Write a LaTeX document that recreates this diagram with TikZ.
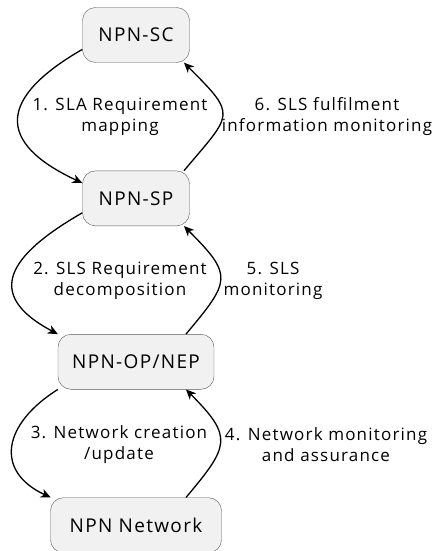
\documentclass[tikz,border=0pt]{standalone}
\usepackage{fontspec}
\setmainfont[LetterSpace=7]{Open Sans}
\usepackage{tikz}
\usetikzlibrary{positioning, arrows.meta}
\definecolor{boxfill}{HTML}{F1F1F1}
\definecolor{boxline}{HTML}{5A5A5A}
\tikzstyle{state} = [rectangle, rounded corners=13pt, 
minimum height=55pt, text centered, draw=boxline, 
fill=boxfill, font=\fontsize{19}{22}\selectfont]
\tikzstyle{steplabel} = [align=center, 
font=\fontsize{17}{21}\selectfont]
\tikzstyle{arrow} = [line width=1.3pt,
-{Stealth[length=10pt,width=9pt,inset=3pt]}]

\begin{document}
\begin{tikzpicture}[x=1pt, y=1pt, node distance=108pt]
\useasboundingbox (0,0) rectangle (433,-551);

\node (sc) [state, minimum width=107pt] at (136,-35) {NPN-SC};

\node (sp) [state, minimum width=107pt, below=of sc] {NPN-SP};

\node (nep) [state, minimum width=156pt, below=of sp] 
{NPN-OP/NEP};

\node (net) [state, minimum width=171pt, below=of nep] 
{NPN Network};

\node (l1) [steplabel] at (120,-117) 
{1. SLA Requirement\\mapping};
\node (l6) [steplabel] at (327,-117) 
{6. SLS fulfilment\\information monitoring};
\node (l2) [steplabel] at (120,-281) 
{2. SLS Requirement\\decomposition};
\node (l5) [steplabel] at (273,-281) 
{5. SLS\\monitoring};
\node (l3) [steplabel] at (119,-445) 
{3. Network creation\\/update};
\node (l4) [steplabel] at (326,-445) 
{4. Network monitoring\\and assurance};

\draw [arrow] (sc.195) to[out=210, in=155, looseness=1.85] (sp.164);
\draw [arrow] (sp.30) to[out=50, in=-45, looseness=1.8] (sc.-30);
\draw [arrow] (sp.195) to[out=210, in=152, looseness=1.75] 
(nep.north west);
\draw [arrow] (nep.29) to[out=50, in=-45, looseness=1.65] (sp.-30);
\draw [arrow] (nep.south west) to[out=212, in=155, looseness=1.5] 
(net.162);
\draw [arrow] (net.29) to[out=50, in=-45, looseness=1.6] (nep.-29);

\end{tikzpicture}
\end{document}
